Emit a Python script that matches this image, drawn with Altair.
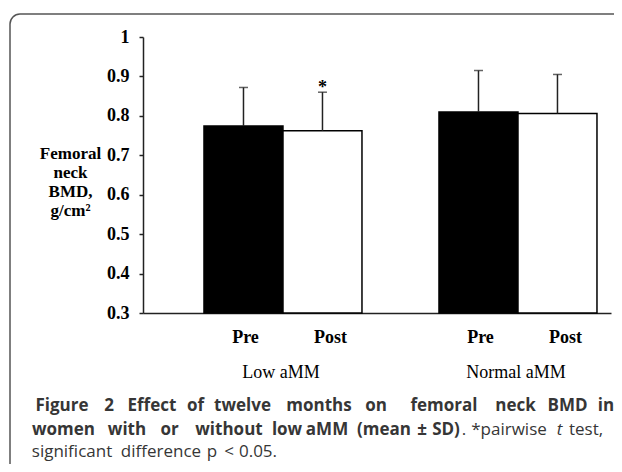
import math
import altair as alt
import pandas as pd

groups = ["Low aMM", "Low aMM", "Normal aMM", "Normal aMM"]
phases = ["Pre", "Post", "Pre", "Post"]
means = [0.774, 0.762, 0.810, 0.806]
sds = [0.098, 0.098, 0.105, 0.099]
marks = ["", "*", "", ""]
y_ticks = [0.3, 0.4, 0.5, 0.6, 0.7, 0.8, 0.9, 1.0]
group_order = ["Low aMM", "Normal aMM"]
phase_order = ["Pre", "Post"]
y_title = ["Femoral", "neck", "BMD,", "g/cm²"]

df = pd.DataFrame({"group": groups, "phase": phases, "mean": means, "sd": sds, "sig": marks})
df["upper"] = df["mean"] + df["sd"]

SERIF = "Liberation Serif"
SANS = "Open Sans"
CAP = "#363636"
FRAME = "#555555"

x_enc = alt.X(
    "group:N",
    sort=group_order,
    scale=alt.Scale(domain=group_order, paddingInner=0.3277, paddingOuter=0.1596, align=0.813),
    axis=alt.Axis(
        title=None, ticks=False, tickSize=0, labelFont=SERIF, labelFontSize=18,
        labelColor="black", labelPadding=64, labelBaseline="alphabetic", labelOffset=-2,
        domainColor="#222222", domainWidth=1.5, labelAngle=0,
    ),
)
xo_enc = alt.XOffset("phase:N", sort=phase_order,
                     scale=alt.Scale(domain=phase_order, paddingInner=0, paddingOuter=0))
y_scale = alt.Scale(domain=[0.3, 1.0], nice=False, zero=False)
y_axis = alt.Axis(
    values=y_ticks, format=".1~f", grid=False, domainColor="#222222", domainWidth=1.5,
    tickColor="#222222", tickSize=4, tickWidth=1.5, labelFont=SERIF, labelFontWeight="bold",
    labelFontSize=18, labelColor="black", labelPadding=10, labelOverlap=False,
    labelFlush=False, labelBound=False,
    title=y_title, titleAngle=0, titleFont=SERIF,
    titleFontWeight="bold", titleFontSize=17, titleColor="black", titleAlign="center",
    titleBaseline="alphabetic", titleX=-73, titleY=121, titleLineHeight=19,
)


def y_of(field):
    return alt.Y(field, type="quantitative", scale=y_scale, axis=y_axis)


base = alt.Chart(df)

bars = base.mark_bar(stroke="black", strokeWidth=1.5).encode(
    x=x_enc,
    xOffset=xo_enc,
    y=y_of("mean"),
    y2=alt.datum(0.3),
    color=alt.Color("phase:N", scale=alt.Scale(domain=phase_order, range=["black", "white"]), legend=None),
)

err = base.mark_rule(color="#222222", strokeWidth=1.5).encode(
    x=x_enc, xOffset=xo_enc, y=y_of("mean"), y2="upper:Q"
)
caps = base.mark_tick(color="#222222", thickness=1.5, size=9, orient="horizontal").encode(
    x=x_enc, xOffset=xo_enc, y=y_of("upper")
)
star = base.mark_text(font=SERIF, fontSize=18, fontWeight="bold", color="black",
                      baseline="alphabetic", dy=1).encode(
    x=x_enc, xOffset=xo_enc, y=y_of("upper"), text="sig:N"
)
pre_lbl = base.transform_filter(alt.datum.phase == "Pre").mark_text(
    font=SERIF, fontSize=18, fontWeight="bold", color="black", baseline="alphabetic", dx=2
).encode(x=x_enc, xOffset=xo_enc, y=alt.value(306), text="phase:N")
post_lbl = base.transform_filter(alt.datum.phase == "Post").mark_text(
    font=SERIF, fontSize=18, fontWeight="bold", color="black", baseline="alphabetic", dx=8
).encode(x=x_enc, xOffset=xo_enc, y=alt.value(306), text="phase:N")

one = pd.DataFrame({"k": [0]})


def txt(s, x, y, weight="normal", style="normal", align="center"):
    return alt.Chart(one).mark_text(
        font=SANS, fontSize=17, fontWeight=weight, fontStyle=style, color=CAP,
        align=align, baseline="alphabetic",
    ).encode(x=alt.value(x - 143), y=alt.value(y), text=alt.value(s))


# rounded frame: top edge, left edge and the top-left corner
frame_top = alt.Chart(one).mark_rule(color=FRAME, strokeWidth=1.5).encode(
    x=alt.value(-123), x2=alt.value(1000), y=alt.value(-23))
frame_left = alt.Chart(one).mark_rule(color=FRAME, strokeWidth=1.5).encode(
    x=alt.value(-133), y=alt.value(-13), y2=alt.value(600))
frame_corner = alt.Chart(one).mark_arc(color=FRAME, radius=10.75, radius2=9.25).encode(
    x=alt.value(-123), y=alt.value(-13),
    theta=alt.value(1.5 * math.pi), theta2=alt.value(2 * math.pi))

# caption layout: (word, page x centre) so the justified lines spread as in the figure
line1 = [("Figure", 62), ("2", 109), ("Effect", 152), ("of", 195.5), ("twelve", 242.5),
         ("months", 319), ("on", 376), ("femoral", 444), ("neck", 515.5), ("BMD", 567.5), ("in", 606)]
line2_bold = [("women", 63.5), ("with", 127), ("or", 169.5), ("without", 229), ("low", 287),
              ("aMM", 327), ("(mean", 384), ("±", 422), ("SD)", 446)]
line2_reg = [(".", 464, "normal"), ("*pairwise", 509, "normal"), ("t", 559.5, "italic"), ("test,", 586, "normal")]
line3 = [("significant", 72), ("difference", 161), ("p", 212), ("<", 229), ("0.05.", 258)]

captions = [txt(w, x, 374, "bold") for w, x in line1]
captions += [txt(w, x, 398, "bold") for w, x in line2_bold]
captions += [txt(w, x, 398, "normal", st) for w, x, st in line2_reg]
captions += [txt(w, x, 420) for w, x in line3]

chart = alt.layer(frame_top, frame_left, frame_corner, bars, err, caps, star, pre_lbl, post_lbl,
                  *captions).properties(
    width=468, height=276,
    autosize=alt.AutoSizeParams(type="none"),
    padding={"left": 135, "top": 29, "right": 3, "bottom": 151},
).configure_view(stroke=None).configure_axisY(labelOverlap=False)

chart.save("out.html", embed_options={"renderer": "svg", "actions": False})
